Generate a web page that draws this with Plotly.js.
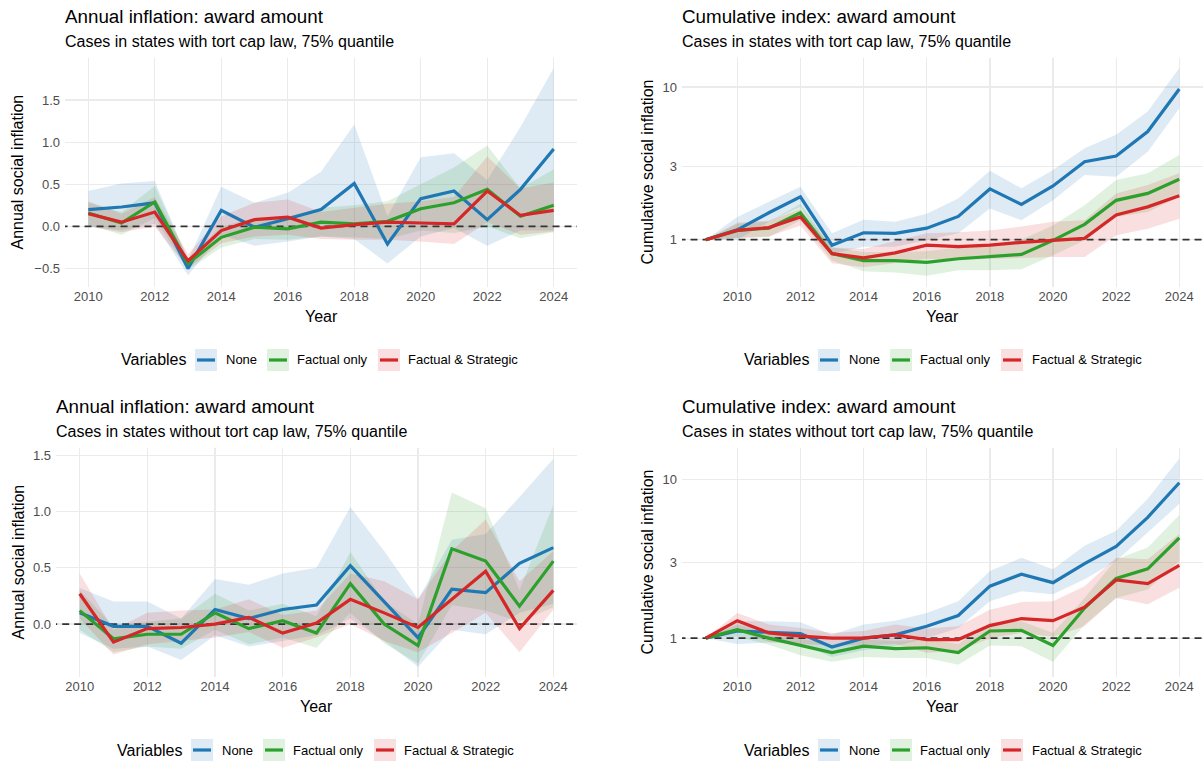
<!DOCTYPE html>
<html>
<head>
<meta charset="utf-8">
<script src="https://cdn.plot.ly/plotly-3.0.1.min.js"></script>
<style>html,body{margin:0;padding:0;background:#fff;}#chart{width:1204px;height:764px;}</style>
</head>
<body>
<div id="chart"></div>
<script>
// ---------------- DATA ----------------
const yearsAnnual = [2010,2011,2012,2013,2014,2015,2016,2017,2018,2019,2020,2021,2022,2023,2024];
const yearsCum = [2009,2010,2011,2012,2013,2014,2015,2016,2017,2018,2019,2020,2021,2022,2023,2024];
const yearTicks = [2010,2012,2014,2016,2018,2020,2022,2024];
const seriesNames = ["None","Factual only","Factual & Strategic"];

// Top-left: annual, states with tort cap law
const tlNone    = [0.20,0.23,0.28,-0.50,0.19,-0.01,0.09,0.20,0.51,-0.21,0.33,0.42,0.08,0.44,0.92];
const tlNoneHi  = [0.42,0.51,0.54,-0.40,0.47,0.28,0.40,0.65,1.21,0.12,0.82,0.87,0.55,1.18,1.88];
const tlNoneLo  = [0.00,-0.05,0.03,-0.58,-0.10,-0.23,-0.18,-0.12,-0.15,-0.44,-0.12,-0.02,-0.23,-0.05,-0.05];
const tlFact    = [0.16,0.04,0.29,-0.44,-0.13,-0.01,-0.03,0.05,0.03,0.06,0.21,0.28,0.44,0.12,0.25];
const tlFactHi  = [0.28,0.17,0.48,-0.38,0.00,0.10,0.12,0.22,0.25,0.30,0.50,0.70,0.96,0.45,0.68];
const tlFactLo  = [0.02,-0.10,0.10,-0.52,-0.25,-0.15,-0.16,-0.12,-0.13,-0.15,-0.05,-0.08,0.00,-0.14,-0.07];
const tlFS      = [0.15,0.05,0.17,-0.41,-0.05,0.08,0.11,-0.02,0.02,0.05,0.04,0.03,0.42,0.13,0.19];
const tlFSHi    = [0.30,0.15,0.35,-0.33,0.12,0.28,0.32,0.17,0.22,0.27,0.30,0.35,0.83,0.45,0.52];
const tlFSLo    = [0.00,-0.07,0.00,-0.50,-0.20,-0.12,-0.10,-0.15,-0.16,-0.16,-0.18,-0.21,0.05,-0.10,-0.06];

// Top-right: cumulative, states with tort cap law
const trNone    = [1,1.16,1.50,1.91,0.92,1.11,1.10,1.19,1.42,2.15,1.70,2.25,3.24,3.53,5.11,9.70];
const trNoneHi  = [1,1.41,1.77,2.22,1.10,1.35,1.31,1.48,1.86,2.83,2.17,2.86,3.97,4.86,6.92,13.3];
const trNoneLo  = [1,1.00,1.31,1.64,0.81,0.90,0.90,0.99,1.10,1.60,1.34,1.81,2.65,2.58,3.77,7.27];
const trFact    = [1,1.15,1.19,1.50,0.81,0.73,0.73,0.71,0.75,0.77,0.80,0.99,1.26,1.81,2.01,2.49];
const trFactHi  = [1,1.27,1.31,1.71,0.89,0.83,0.83,0.84,0.89,0.92,1.00,1.24,1.68,2.46,2.72,3.59];
const trFactLo  = [1,1.03,1.04,1.34,0.73,0.62,0.61,0.58,0.63,0.63,0.64,0.79,0.99,1.41,1.52,1.91];
const trFS      = [1,1.15,1.20,1.41,0.81,0.76,0.82,0.92,0.90,0.92,0.96,0.99,1.02,1.45,1.64,1.94];
const trFSHi    = [1,1.29,1.33,1.58,0.89,0.87,0.98,1.10,1.12,1.15,1.22,1.31,1.34,2.01,2.28,2.72];
const trFSLo    = [1,1.02,1.05,1.24,0.70,0.66,0.70,0.75,0.74,0.75,0.76,0.77,0.77,1.07,1.18,1.37];

// Bottom-left: annual, states without tort cap law
const blNone    = [0.10,-0.02,-0.02,-0.17,0.13,0.05,0.13,0.17,0.52,0.20,-0.12,0.31,0.28,0.54,0.68];
const blNoneHi  = [0.32,0.20,0.20,0.05,0.40,0.35,0.45,0.50,1.04,0.65,0.22,0.75,0.80,1.13,1.47];
const blNoneLo  = [-0.08,-0.22,-0.20,-0.32,-0.10,-0.20,-0.15,-0.10,0.05,-0.15,-0.38,-0.05,-0.09,0.10,0.18];
const blFact    = [0.12,-0.13,-0.09,-0.09,0.10,-0.04,0.03,-0.08,0.36,0.00,-0.19,0.67,0.56,0.16,0.56];
const blFactHi  = [0.30,-0.02,0.02,0.05,0.27,0.12,0.18,0.07,0.64,0.20,0.00,1.17,1.03,0.30,1.06];
const blFactLo  = [-0.05,-0.25,-0.20,-0.22,-0.05,-0.18,-0.12,-0.21,0.10,-0.17,-0.35,0.17,0.12,0.02,0.15];
const blFS      = [0.27,-0.16,-0.04,-0.03,0.00,0.06,-0.08,0.01,0.22,0.10,-0.03,0.22,0.47,-0.04,0.30];
const blFSHi    = [0.45,-0.05,0.10,0.12,0.13,0.22,0.08,0.12,0.45,0.38,0.22,0.65,0.93,0.38,0.65];
const blFSLo    = [0.05,-0.27,-0.18,-0.15,-0.12,-0.07,-0.21,-0.12,0.00,-0.15,-0.25,-0.08,0.10,-0.25,0.13];

// Bottom-right: cumulative, states without tort cap law
const brNone    = [1,1.11,1.09,1.07,0.88,1.00,1.05,1.19,1.39,2.13,2.53,2.24,2.95,3.79,5.79,9.57];
const brNoneHi  = [1,1.28,1.28,1.26,1.05,1.22,1.29,1.44,1.71,2.65,3.22,2.72,3.83,4.76,7.57,13.6];
const brNoneLo  = [1,0.92,0.94,0.92,0.76,0.84,0.89,1.00,1.16,1.71,1.98,1.89,2.35,3.07,4.65,7.04];
const brFact    = [1,1.13,1.00,0.90,0.81,0.89,0.86,0.87,0.81,1.11,1.12,0.90,1.55,2.38,2.74,4.30];
const brFactHi  = [1,1.22,1.09,1.00,0.91,0.98,0.96,0.98,0.92,1.25,1.28,1.08,1.79,3.15,3.73,5.99];
const brFactLo  = [1,1.02,0.91,0.78,0.71,0.76,0.75,0.75,0.68,0.90,0.89,0.71,1.22,1.79,2.03,3.07];
const brFS      = [1,1.29,1.08,1.03,1.00,1.00,1.05,0.98,0.98,1.20,1.33,1.29,1.57,2.33,2.21,2.88];
const brFSHi    = [1,1.44,1.22,1.16,1.08,1.11,1.22,1.15,1.19,1.51,1.69,1.71,2.13,3.22,3.15,4.54];
const brFSLo    = [1,1.11,0.95,0.92,0.90,0.90,0.92,0.81,0.83,1.00,1.08,1.02,1.19,1.79,1.64,2.08];

const annualTicks = [-0.5,0,0.5,1,1.5];
const cumTicks = [1,3,10];
const cumTickText = ["1","3","10"];

// ---------------- STYLE ----------------
const W = 1204, H = 764;
const FONT = "Liberation Sans, Arial, Helvetica, sans-serif";
const colors = ["#1f77b4","#2ca02c","#d62728"];
const fills = ["rgba(31,119,180,0.15)","rgba(44,160,44,0.15)","rgba(214,39,40,0.15)"];
const px = v => v / W;
const py = v => 1 - v / H;

const panels = [
  {ax:"", years:yearsAnnual, lines:[tlNone,tlFact,tlFS], hi:[tlNoneHi,tlFactHi,tlFSHi], lo:[tlNoneLo,tlFactLo,tlFSLo],
   xpx:[65,577], ypx:[58,287], xr:[2009.3,2024.7], yr:[-0.72,2.0], log:false, ref:0,
   title:"Annual inflation: award amount", sub:"Cases in states with tort cap law, 75% quantile", ytitle:"Annual social inflation", ytx:17},
  {ax:"2", years:yearsCum, lines:[trNone,trFact,trFS], hi:[trNoneHi,trFactHi,trFSHi], lo:[trNoneLo,trFactLo,trFSLo],
   xpx:[682,1203], ypx:[58,287], xr:[2008.25,2024.75], yr:[-0.31,1.19], log:true, ref:1,
   title:"Cumulative index: award amount", sub:"Cases in states with tort cap law, 75% quantile", ytitle:"Cumulative social inflation", ytx:647},
  {ax:"3", years:yearsAnnual, lines:[blNone,blFact,blFS], hi:[blNoneHi,blFactHi,blFSHi], lo:[blNoneLo,blFactLo,blFSLo],
   xpx:[56,577], ypx:[448,677], xr:[2009.3,2024.7], yr:[-0.47,1.565], log:false, ref:0,
   title:"Annual inflation: award amount", sub:"Cases in states without tort cap law, 75% quantile", ytitle:"Annual social inflation", ytx:18},
  {ax:"4", years:yearsCum, lines:[brNone,brFact,brFS], hi:[brNoneHi,brFactHi,brFSHi], lo:[brNoneLo,brFactLo,brFSLo],
   xpx:[682,1203], ypx:[448,677], xr:[2008.25,2024.75], yr:[-0.245,1.2], log:true, ref:1,
   title:"Cumulative index: award amount", sub:"Cases in states without tort cap law, 75% quantile", ytitle:"Cumulative social inflation", ytx:647}
];

const traces = [];
const layout = {
  width: W, height: H,
  margin: {l:0, r:0, t:0, b:0},
  paper_bgcolor: "#ffffff", plot_bgcolor: "#ffffff",
  showlegend: false,
  font: {family: FONT, color: "#000"},
  annotations: [], shapes: []
};

panels.forEach(p => {
  const xa = "x" + p.ax, ya = "y" + p.ax;
  // ribbons
  for (let i = 0; i < 3; i++) {
    traces.push({
      type:"scatter", mode:"lines", xaxis:xa, yaxis:ya,
      x: p.years.concat(p.years.slice().reverse()),
      y: p.hi[i].concat(p.lo[i].slice().reverse()),
      fill:"toself", fillcolor: fills[i], line:{width:0, color:fills[i]},
      hoverinfo:"skip", name: seriesNames[i]
    });
  }
  // reference dashed line
  traces.push({
    type:"scatter", mode:"lines", xaxis:xa, yaxis:ya,
    x:[2007, 2026], y:[p.ref, p.ref],
    line:{color:"#333333", width:1.8, dash:"7px,5px"}, hoverinfo:"skip"
  });
  // lines
  for (let i = 0; i < 3; i++) {
    traces.push({
      type:"scatter", mode:"lines", xaxis:xa, yaxis:ya,
      x: p.years, y: p.lines[i], name: seriesNames[i],
      line:{color: colors[i], width:3.2}
    });
  }
  const xkey = "xaxis" + p.ax, ykey = "yaxis" + p.ax;
  layout[xkey] = {
    domain:[px(p.xpx[0]), px(p.xpx[1])], anchor: ya, range: p.xr,
    tickvals: yearTicks, ticks:"", showline:false, zeroline:false,
    showgrid:true, gridcolor:"#ebebeb", gridwidth:1.3,
    tickfont:{size:13, color:"#4d4d4d", family:FONT}, fixedrange:true
  };
  const yax = {
    domain:[py(p.ypx[1]), py(p.ypx[0])], anchor: xa, range: p.yr,
    ticks:"", showline:false, zeroline:false,
    showgrid:true, gridcolor:"#ebebeb", gridwidth:1.3,
    tickfont:{size:13, color:"#4d4d4d", family:FONT}, fixedrange:true,
    ticklabelstandoff: 4
  };
  if (p.log) { yax.type = "log"; yax.tickvals = cumTicks; yax.ticktext = cumTickText; }
  else { yax.tickvals = annualTicks; yax.tickformat = ".1f"; }
  layout[ykey] = yax;

  // titles
  layout.annotations.push({xref:"paper", yref:"paper", x:px(p.xpx[0]-1.5), y:py(p.ypx[0]-41.6), xanchor:"left", yanchor:"middle",
    text:p.title, showarrow:false, borderpad:0, font:{size:18.8, color:"#000", family:FONT}});
  layout.annotations.push({xref:"paper", yref:"paper", x:px(p.xpx[0]-1.5), y:py(p.ypx[0]-16.6), xanchor:"left", yanchor:"middle",
    text:p.sub, showarrow:false, borderpad:0, font:{size:16, color:"#000", family:FONT}});
  // axis titles
  layout.annotations.push({xref:"paper", yref:"paper", x:px((p.xpx[0]+p.xpx[1])/2), y:py(p.ypx[1]+29), xanchor:"center", yanchor:"middle",
    text:"Year", showarrow:false, borderpad:0, font:{size:16, color:"#000", family:FONT}});
  layout.annotations.push({xref:"paper", yref:"paper", x:px(p.ytx), y:py((p.ypx[0]+p.ypx[1])/2), xanchor:"center", yanchor:"middle",
    text:p.ytitle, textangle:-90, showarrow:false, borderpad:0, font:{size:16, color:"#000", family:FONT}});
});

// ---------------- LEGENDS (drawn manually, ggplot-style keys) ----------------
const legends = [
  {y:360, title:121, keys:[195,267,378], labels:[225,296,407]},
  {y:360, title:744, keys:[818,890,1001], labels:[848,919,1031]},
  {y:750, title:117, keys:[191,263,374], labels:[221,292,403]},
  {y:750, title:744, keys:[818,890,1001], labels:[848,919,1031]}
];
legends.forEach(L => {
  layout.annotations.push({xref:"paper", yref:"paper", x:px(L.title-1), y:py(L.y), xanchor:"left", yanchor:"middle",
    text:"Variables", showarrow:false, borderpad:0, font:{size:16, color:"#000", family:FONT}});
  for (let i = 0; i < 3; i++) {
    const k = L.keys[i];
    layout.shapes.push({type:"rect", xref:"paper", yref:"paper", x0:px(k), x1:px(k+22), y0:py(L.y+11), y1:py(L.y-11),
      fillcolor:fills[i], line:{width:0}, layer:"above"});
    layout.shapes.push({type:"line", xref:"paper", yref:"paper", x0:px(k+2), x1:px(k+20), y0:py(L.y), y1:py(L.y),
      line:{color:colors[i], width:3.2}, layer:"above"});
    layout.annotations.push({xref:"paper", yref:"paper", x:px(L.labels[i]), y:py(L.y), xanchor:"left", yanchor:"middle",
      text:seriesNames[i], showarrow:false, borderpad:0, font:{size:13, color:"#000", family:FONT}});
  }
});

Plotly.newPlot("chart", traces, layout, {displayModeBar:false, staticPlot:true});
</script>
</body>
</html>
